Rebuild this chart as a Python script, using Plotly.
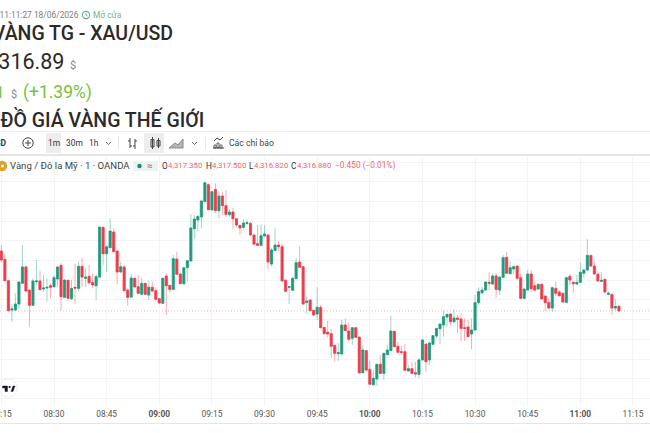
import pandas as pd
import plotly.graph_objects as go

W, H = 650, 433

# One-minute XAU/USD candles from 08:15 to 11:11
start_time = "2026-06-18 08:15"
opens = [
    4322.96,4322.12,4319.95,4316.97,4316.97,4317.58,4319.68,4321.34,4319.00,4317.45,
    4319.85,4319.92,4319.11,4319.21,4319.45,4319.34,4320.12,4321.51,4318.26,4319.99,
    4318.13,4319.28,4319.17,4321.41,4320.19,4320.39,4319.78,4319.44,4320.32,4325.37,
    4322.69,4323.30,4324.89,4322.96,4320.83,4321.34,4319.00,4318.29,4320.19,4319.34,
    4318.57,4319.68,4318.50,4319.28,4318.94,4318.13,4317.65,4320.43,4319.48,4319.07,
    4322.15,4320.63,4319.65,4321.27,4321.95,4325.23,4326.11,4326.42,4327.97,4329.70,
    4327.13,4329.22,4327.06,4328.55,4327.57,4326.65,4326.92,4326.25,4325.57,4325.37,
    4325.77,4325.77,4324.59,4323.71,4323.54,4324.49,4324.59,4321.64,4323.03,4323.57,
    4323.40,4319.99,4319.28,4318.97,4320.16,4321.85,4321.37,4317.75,4317.99,4316.94,
    4316.57,4317.25,4315.21,4314.71,4314.57,4313.39,4312.54,4312.51,4315.45,4314.84,
    4314.10,4315.18,4314.23,4310.61,4312.85,4310.95,4309.39,4309.97,4311.46,4310.54,
    4312.44,4312.85,4314.81,4313.29,4312.74,4312.74,4310.78,4311.02,4310.61,4310.44,
    4311.90,4313.52,4311.90,4313.49,4314.33,4315.08,4315.45,4316.26,4316.57,4315.79,
    4316.16,4316.06,4315.18,4315.25,4314.54,4314.94,4317.72,4318.73,4319.00,4319.78,
    4319.61,4320.43,4319.00,4320.29,4322.32,4320.66,4321.14,4321.44,4320.26,4318.16,
    4319.00,4320.63,4319.44,4319.11,4319.58,4318.40,4317.75,4317.18,4319.17,4318.80,
    4318.67,4317.75,4320.39,4319.78,4319.61,4319.78,4320.70,4321.03,4322.52,4321.44,
    4320.60,4319.88,4320.09,4318.56,4318.56,4317.18,4317.35,
]
highs = [
    4323.57,4322.66,4320.00,4317.58,4318.67,4319.85,4323.57,4321.54,4319.05,4320.19,
    4322.05,4320.93,4320.53,4320.19,4319.68,4320.53,4321.44,4321.71,4320.09,4320.02,
    4320.02,4321.64,4321.88,4322.29,4321.20,4321.54,4320.70,4320.60,4325.43,4325.43,
    4323.57,4326.28,4325.27,4323.00,4321.88,4321.54,4319.17,4320.63,4320.22,4320.53,
    4320.26,4319.71,4319.95,4319.85,4319.28,4318.16,4320.29,4320.70,4319.51,4322.56,
    4322.90,4320.66,4321.30,4322.01,4326.69,4326.62,4326.62,4328.14,4329.97,4329.83,
    4329.02,4329.83,4328.99,4328.99,4329.16,4327.23,4327.36,4326.28,4325.60,4326.18,
    4326.18,4325.94,4324.62,4325.60,4325.67,4325.60,4324.62,4323.23,4325.27,4324.01,
    4323.74,4320.09,4319.37,4320.29,4322.22,4323.47,4321.40,4318.43,4318.02,4316.97,
    4319.28,4317.48,4315.24,4315.89,4315.05,4313.42,4313.59,4315.96,4316.13,4315.69,
    4315.21,4315.21,4314.27,4313.42,4312.88,4311.83,4310.88,4311.49,4312.37,4312.61,
    4313.42,4316.40,4314.85,4313.76,4313.32,4313.52,4311.39,4311.73,4311.73,4312.07,
    4313.96,4313.55,4313.76,4314.39,4315.14,4315.58,4316.91,4316.64,4316.60,4317.04,
    4316.47,4316.64,4316.13,4315.96,4316.13,4318.50,4319.28,4319.34,4319.85,4320.80,
    4320.70,4320.70,4320.36,4322.56,4322.86,4321.88,4321.54,4321.47,4320.70,4319.14,
    4321.03,4321.03,4319.85,4319.68,4319.68,4318.43,4318.16,4319.34,4319.85,4319.00,
    4318.70,4320.36,4320.63,4319.85,4320.53,4321.81,4321.07,4324.18,4322.55,4321.88,
    4320.87,4320.80,4320.12,4318.90,4318.60,4318.06,4317.50,
]
lows = [
    4321.87,4319.92,4316.85,4315.79,4316.94,4317.11,4319.65,4318.87,4315.28,4317.42,
    4319.51,4319.00,4318.84,4317.82,4318.16,4319.28,4319.34,4316.91,4318.23,4318.12,
    4317.99,4317.58,4318.84,4319.28,4319.34,4319.61,4319.17,4317.99,4320.29,4321.54,
    4320.83,4323.27,4322.87,4319.58,4320.80,4318.90,4317.41,4318.26,4319.28,4318.63,
    4318.50,4318.50,4317.99,4318.84,4317.99,4317.58,4317.62,4316.47,4318.73,4319.04,
    4320.56,4319.61,4319.51,4319.85,4321.92,4324.25,4324.93,4325.27,4327.94,4327.13,
    4327.06,4326.79,4326.28,4326.62,4326.45,4326.45,4325.16,4325.43,4324.59,4325.16,
    4325.60,4324.52,4323.57,4323.47,4323.47,4324.45,4321.14,4321.37,4323.00,4322.96,
    4319.88,4318.84,4317.58,4318.90,4320.12,4321.27,4317.55,4316.64,4316.87,4316.43,
    4315.96,4315.11,4314.54,4314.17,4312.07,4311.73,4311.83,4312.48,4314.85,4313.76,
    4313.42,4314.17,4310.54,4310.58,4310.71,4309.40,4309.26,4309.29,4310.50,4309.87,
    4312.41,4312.82,4313.22,4312.58,4312.41,4310.82,4310.71,4310.50,4310.14,4310.04,
    4311.87,4310.71,4311.39,4313.42,4314.10,4313.52,4314.27,4315.28,4315.45,4315.62,
    4314.61,4313.83,4313.83,4314.24,4312.98,4314.90,4317.48,4318.60,4318.97,4319.00,
    4319.58,4318.26,4318.50,4320.25,4320.66,4320.63,4320.63,4320.02,4318.09,4318.09,
    4318.97,4318.84,4318.84,4319.00,4318.06,4316.87,4317.04,4316.81,4318.40,4318.33,
    4317.72,4317.72,4319.51,4318.73,4319.51,4319.75,4320.19,4321.00,4321.41,4320.60,
    4319.88,4319.85,4318.73,4318.53,4316.47,4316.97,4316.82,
]
closes = [
    4322.05,4319.95,4316.91,4317.08,4317.58,4319.82,4321.34,4318.90,4317.45,4319.92,
    4319.92,4319.04,4319.21,4319.28,4319.28,4320.26,4321.34,4318.33,4320.02,4318.16,
    4319.17,4319.21,4321.41,4320.32,4320.32,4319.75,4319.51,4320.36,4325.40,4322.69,
    4323.40,4324.99,4322.90,4320.83,4321.37,4318.94,4318.26,4320.22,4319.31,4318.67,
    4319.68,4318.57,4319.28,4318.90,4318.06,4317.69,4320.19,4319.44,4319.07,4322.19,
    4320.60,4319.65,4321.27,4321.98,4325.30,4326.21,4326.48,4328.04,4329.90,4327.16,
    4328.99,4327.09,4328.55,4327.57,4326.69,4326.92,4326.25,4325.60,4325.30,4325.81,
    4325.84,4324.59,4323.67,4323.54,4324.52,4324.69,4321.85,4323.07,4323.57,4323.40,
    4319.92,4318.87,4319.34,4320.19,4321.78,4321.31,4317.58,4317.89,4316.91,4316.47,
    4317.25,4315.18,4314.57,4314.54,4313.29,4312.58,4312.64,4315.45,4314.88,4314.00,
    4315.18,4314.20,4310.61,4312.91,4310.88,4309.43,4310.04,4311.46,4310.54,4312.58,
    4312.91,4314.84,4313.25,4312.68,4312.68,4310.85,4311.02,4310.54,4310.48,4311.90,
    4313.93,4311.73,4313.62,4314.37,4315.11,4315.55,4316.30,4316.53,4315.79,4316.16,
    4316.03,4315.11,4315.11,4314.27,4314.94,4317.72,4318.84,4319.00,4319.82,4319.68,
    4320.43,4319.07,4320.32,4322.29,4320.70,4321.27,4321.37,4320.19,4318.16,4319.11,
    4320.63,4319.14,4319.00,4319.58,4318.09,4317.72,4317.18,4319.24,4318.67,4318.43,
    4317.79,4320.26,4320.02,4319.65,4319.78,4320.80,4321.03,4322.52,4321.44,4320.63,
    4319.92,4319.99,4318.80,4318.67,4317.18,4317.33,4316.88,
]
tick_times = ["08:15", "08:30", "08:45", "09:00", "09:15", "09:30", "09:45",
              "10:00", "10:15", "10:30", "10:45", "11:00", "11:15"]
session_hours = {"09:00", "10:00", "11:00"}

UP, DOWN = "#1f9a7d", "#f03a4a"
UP_WICK, DOWN_WICK = "rgba(31,154,125,0.42)", "rgba(240,58,74,0.42)"
GRID = "#f4f4f4"
SANS = "Roboto, sans-serif"
AXIS_FONT = "Roboto, sans-serif"

times = pd.date_range(start_time, periods=len(opens), freq="min")
tick_vals = [f"2026-06-18 {t}" for t in tick_times]
tick_text = [f"<b>{t}</b>" if t in session_hours else t for t in tick_times]


def px(x):
    return x / W


def py(y):
    return 1 - y / H


annotations = []
shapes = []


def label(x, y, text, size, color, anchor="left", weight=400, family=SANS):
    annotations.append(dict(
        x=px(x), y=py(y), xref="paper", yref="paper", text=text, showarrow=False,
        xanchor=anchor, yanchor="middle", borderpad=0,
        font=dict(size=size, color=color, family=family, weight=weight),
    ))


def rect(x0, y0, x1, y1, fill, line=None, width=0):
    shapes.append(dict(type="rect", xref="paper", yref="paper", layer="above",
                       x0=px(x0), y0=py(y0), x1=px(x1), y1=py(y1), fillcolor=fill,
                       line=dict(color=line or fill, width=width)))


def circle(cx, cy, r, fill="rgba(0,0,0,0)", line=None, width=0):
    shapes.append(dict(type="circle", xref="paper", yref="paper", layer="above",
                       x0=px(cx - r), y0=py(cy - r), x1=px(cx + r), y1=py(cy + r),
                       fillcolor=fill, line=dict(color=line or fill, width=width)))


def stroke(points, color, width=1, fill=None):
    d = "M" + " L".join(f"{px(a):.5f},{py(b):.5f}" for a, b in points)
    if fill:
        d += " Z"
    shapes.append(dict(type="path", xref="paper", yref="paper", layer="above", path=d,
                       fillcolor=fill or "rgba(0,0,0,0)",
                       line=dict(color=color, width=width)))


# Page header above the chart
label(80, 15, "Cập nhật lúc 11:11:27 18/06/2026", 8.4, "#7d7d7d", "right")
circle(86, 15, 3.6, line="#5fae88", width=1.1)
stroke([(86, 13), (86, 15), (87.5, 16)], "#5fae88", 0.9)
label(92, 15, "Mở cửa", 8.4, "#6bb592")
label(173.5, 33, "GIÁ VÀNG TG - XAU/USD", 19.5, "#2a2a2a", "right", 500)
label(64.5, 61, "4,316.89", 21.5, "#2a2a2a", "right")
label(69, 65, "$", 11, "#888888")
label(4.5, 92, "59.61", 16.5, "#77bf3f", "right")
label(10, 94, "$", 11, "#888888")
label(22, 92, "(+1.39%)", 17.5, "#77bf3f")
label(205, 120, "BIỂU ĐỒ GIÁ VÀNG THẾ GIỚI", 19.5, "#2a2a2a", "right", 500)

# Toolbar frame
rect(0, 131, W, 132, "#ececec")
rect(0, 154, W, 156, "#e6e6e6")
label(7, 143, "XAUUSD", 8.5, "#333333", "right", 700, AXIS_FONT)
circle(28, 143, 5.2, line="#444444", width=1)
stroke([(25, 143), (31, 143)], "#444444", 1)
stroke([(28, 140), (28, 146)], "#444444", 1)
rect(46, 133, 61, 153, "#ededed")
label(53.5, 143, "1m", 8.4, "#333333", "center", 400, AXIS_FONT)
label(74, 143, "30m", 8.4, "#333333", "center", 400, AXIS_FONT)
label(94, 143, "1h", 8.4, "#333333", "center", 400, AXIS_FONT)
stroke([(106, 142), (108.5, 144.5), (111, 142)], "#666666", 1)
rect(118, 136, 119, 150, "#e8e8e8")
stroke([(130, 138), (130, 148)], "#444444", 1)
stroke([(128, 141), (130, 141)], "#444444", 1)
stroke([(130, 146), (132, 146)], "#444444", 1)
stroke([(135, 139), (135, 149)], "#444444", 1)
stroke([(133, 146), (135, 146)], "#444444", 1)
stroke([(135, 141), (137, 141)], "#444444", 1)
rect(144, 133, 164, 153, "#ededed")
rect(151, 139.5, 154, 147, "rgba(0,0,0,0)", "#444444", 1)
stroke([(152.5, 137), (152.5, 149)], "#444444", 1)
rect(157, 140.5, 160, 146, "rgba(0,0,0,0)", "#444444", 1)
stroke([(158.5, 138), (158.5, 148)], "#444444", 1)
stroke([(169, 148), (175, 143), (178, 145), (183, 139), (183, 148)], "#8a8a8a", 1, "#b5b5b5")
stroke([(192, 142), (194.5, 144.5), (197, 142)], "#666666", 1)
rect(205, 136, 206, 150, "#e8e8e8")
stroke([(213, 148), (224, 148)], "#444444", 1)
for bar_x, bar_top in [(215, 145), (218, 143), (221, 145)]:
    rect(bar_x - 1, bar_top, bar_x + 1, 148, "rgba(0,0,0,0)", "#444444", 0.8)
stroke([(214, 141), (217, 138), (220, 140), (223, 137)], "#444444", 1)
label(228, 143, "Các chỉ báo", 8.6, "#444444", "left", 400, AXIS_FONT)

# Symbol legend row, with the last candle's values
circle(2, 166, 5.2, "#dca22b")
circle(2.5, 166, 1.5, "#ffffff")
label(9, 166, "Vàng / Đô la Mỹ · 1 · OANDA", 9.6, "#3f3f3f", "left", 400, AXIS_FONT)
rect(133, 161, 158, 171, "#e9f5f1")
circle(139.5, 166, 2.2, "#0f8d72")
label(149.5, 165.5, "≈", 9, "#e0506a", "center", 700, AXIS_FONT)
legend_red = "#f4606c"
for letter, letter_x, value, value_x in [
    ("O", 160.5, opens[-1], 167.5), ("H", 204.5, highs[-1], 210.5),
    ("L", 247.5, lows[-1], 252.5), ("C", 289.5, closes[-1], 295.5),
]:
    label(letter_x, 166, letter, 8.2, "#333333", "left", 400, AXIS_FONT)
    label(value_x, 166, f"{value:,.3f}", 7.8, legend_red, "left", 400, AXIS_FONT)
label(333.5, 166, "−0.450 (−0.01%)", 8.3, legend_red, "left", 400, AXIS_FONT)

# Attribution badge in the lower-left corner
circle(8.5, 388, 9, "#ffffff", "#eeeeee", 1)
stroke([(2.5, 386), (7.5, 386), (7.5, 391.5), (5, 391.5), (5, 388), (2.5, 388)], "#131722", 0.4, "#131722")
stroke([(11, 391.5), (13, 386), (15, 386), (13, 391.5)], "#131722", 0.4, "#131722")
circle(9.6, 387, 1.1, "#131722")

# Frame below the time axis
rect(0, 423, W, 424, "#e6e6e6")

# Dotted line at the latest price
shapes.append(dict(type="line", xref="paper", yref="y", layer="below",
                   x0=0, x1=1, y0=closes[-1], y1=closes[-1],
                   line=dict(color="rgba(242,54,69,0.38)", width=1, dash="1px,2px")))

fig = go.Figure()
# Wick layer: pale lines from low to high
fig.add_trace(go.Candlestick(
    x=times, open=opens, high=highs, low=lows, close=closes,
    increasing=dict(line=dict(color=UP_WICK, width=1), fillcolor="rgba(0,0,0,0)"),
    decreasing=dict(line=dict(color=DOWN_WICK, width=1), fillcolor="rgba(0,0,0,0)"),
    whiskerwidth=0, hoverinfo="skip", showlegend=False,
))
# Body layer: solid boxes between open and close
fig.add_trace(go.Candlestick(
    x=times, open=opens, close=closes,
    high=[max(o, c) for o, c in zip(opens, closes)],
    low=[min(o, c) for o, c in zip(opens, closes)],
    increasing=dict(line=dict(color=UP, width=0.6), fillcolor=UP),
    decreasing=dict(line=dict(color=DOWN, width=0.6), fillcolor=DOWN),
    whiskerwidth=0, hoverinfo="skip", showlegend=False,
))

fig.update_layout(
    width=W, height=H, margin=dict(l=0, r=0, t=0, b=0, pad=0),
    paper_bgcolor="#ffffff", plot_bgcolor="#ffffff", showlegend=False, boxgap=0.15,
    annotations=annotations, shapes=shapes,
    xaxis=dict(
        type="date", range=["2026-06-18 08:14:36.6", "2026-06-18 11:19:51"],
        rangeslider=dict(visible=False), tickmode="array",
        tickvals=tick_vals, ticktext=tick_text, ticks="", ticklabelstandoff=2,
        ticklabeloverflow="allow",
        tickfont=dict(size=8.4, color="#555555", family=AXIS_FONT),
        showgrid=True, gridcolor=GRID, gridwidth=1, zeroline=False, showline=False,
        automargin=False,
    ),
    yaxis=dict(
        domain=[py(406), py(157)], range=[4307.23, 4332.51], tick0=4316, dtick=2,
        showticklabels=False, ticks="", showgrid=True, gridcolor=GRID, gridwidth=1,
        zeroline=False, showline=False, automargin=False,
    ),
)

fig.write_html("out.html", config=dict(displayModeBar=False, responsive=False))
